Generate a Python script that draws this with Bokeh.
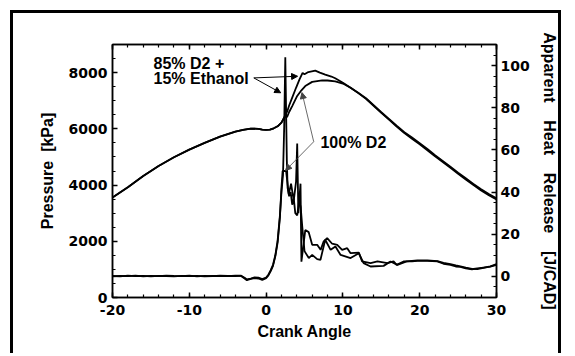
from bokeh.plotting import figure
from bokeh.models import (Range1d, LinearAxis, SingleIntervalTicker, Arrow,
                          NormalHead, Label)
from bokeh.embed import file_html
from bokeh.resources import INLINE

# ---------------- data ----------------
# Cylinder pressure [kPa] vs crank angle
p_common_x = [-20, -18, -16, -14, -12, -10, -8, -6, -4, -3, -2, -1, -0.5, 0, 0.5, 1, 1.5, 2, 2.4]
p_common_y = [3560, 3920, 4320, 4680, 4990, 5260, 5500, 5720, 5900, 5960, 6010, 6000, 5975, 5960, 5975, 6020, 6090, 6220, 6420]

p_eth_x = [2.75, 3.0, 3.4, 3.9, 4.35, 4.75, 5.0, 5.5, 6.4, 7.0, 7.7, 8.5, 9.0, 9.5, 10, 11, 12, 13, 14, 15, 16, 17, 18, 19, 20, 21, 22, 23, 24, 25, 26, 27, 28, 29, 30]
p_eth_y = [6620, 6830, 7110, 7460, 7760, 7990, 7940, 8020, 8070, 8000, 7930, 7860, 7800, 7720, 7640, 7460, 7270, 7070, 6820, 6570, 6330, 6080, 5850, 5650, 5450, 5240, 5020, 4820, 4610, 4400, 4200, 4000, 3810, 3640, 3490]

p_d2_x = [2.75, 3.0, 3.4, 4.05, 4.6, 5.1, 6.0, 7.3, 8.0, 9.0, 10, 11, 12, 13, 14, 15, 16, 17, 18, 19, 20, 21, 22, 23, 24, 25, 26, 27, 28, 29, 30]
p_d2_y = [6430, 6600, 6810, 7170, 7370, 7520, 7670, 7720, 7720, 7690, 7610, 7460, 7280, 7090, 6840, 6590, 6350, 6110, 5880, 5690, 5490, 5280, 5060, 4860, 4650, 4440, 4240, 4040, 3850, 3680, 3530]

# Apparent heat release [J/CAD] vs crank angle
h_d2_x = [-20, -19, -18, -17, -16, -15, -14, -13, -12, -11, -10, -9, -8, -7, -6, -5, -4, -3.3, -2.8, -2.5, -2.0, -1.5, -1.0, -0.5, 0, 0.3, 0.6, 0.9, 1.2, 1.5, 1.8, 2.0, 2.15, 2.6, 2.95, 3.25, 3.6, 3.9, 4.05, 4.2, 4.48, 4.6, 5.1, 5.55, 6.0, 6.65, 7.1, 7.5, 7.95, 8.6, 9.26, 9.9, 10.56, 11.0, 12.07, 12.5, 13.6, 14.5, 15.8, 16.6, 17.0, 17.9, 19.0, 19.7, 21.0, 22.3, 23.1, 24.0, 24.7, 25.3, 26.0, 26.8, 27.5, 28.3, 29.2, 30]
h_d2_y = [0.2, 0.0, 0.4, 0.1, 0.3, 0.0, 0.3, 0.2, 0.0, 0.3, 0.1, 0.3, 0.0, 0.2, 0.3, 0.1, 0.4, 0.3, -1.0, -1.8, -1.2, -0.8, -1.0, -1.7, -0.8, 0.5, 2.5, 5, 9.5, 16, 28, 42, 50, 50, 39, 44, 36, 45, 63, 30, 44, 7, 22, 21, 15, 15, 12.6, 16.6, 18.2, 15.5, 15, 12.6, 13.4, 11, 11.3, 7.1, 6.3, 7.1, 6.3, 7.1, 5.5, 7.1, 7.2, 7.4, 7.4, 7.1, 6.0, 5.5, 4.7, 4.5, 3.8, 3.4, 3.8, 4.2, 4.6, 5.5]

h_eth_x = [-20, -19, -18, -17, -16, -15, -14, -13, -12, -11, -10, -9, -8, -7, -6, -5, -4, -3.3, -2.8, -2.5, -2.0, -1.5, -1.0, -0.5, 0, 0.3, 0.6, 0.9, 1.2, 1.5, 1.8, 2.0, 2.2, 2.35, 2.5, 2.7, 2.8, 3.0, 3.2, 3.4, 3.6, 3.8, 4.05, 4.3, 4.5, 4.7, 5.0, 5.56, 6.0, 6.65, 7.08, 7.7, 8.4, 9.03, 9.7, 11.0, 12.07, 12.7, 13.6, 15.3, 16.2, 17.1, 18.3, 19.7, 21.0, 22.3, 23.1, 24.0, 24.7, 25.3, 26.0, 26.8, 27.5, 28.3, 29.2, 30]
h_eth_y = [0.0, 0.3, 0.1, 0.4, 0.0, 0.3, 0.1, 0.4, 0.2, 0.1, 0.4, 0.0, 0.3, 0.1, 0.4, 0.2, 0.2, 0.4, -0.6, -1.4, -1.0, -0.5, -0.6, -1.3, -0.5, 0.8, 3, 5.5, 10, 17, 29, 40, 48, 70, 104, 55, 42, 38, 40, 34, 37, 30, 29, 36, 33, 24, 12, 8.7, 10.2, 8.2, 7.9, 17.4, 12.6, 14.2, 10.2, 8.7, 11, 6.3, 4.7, 5.0, 7.1, 5.5, 7.1, 7.6, 7.6, 7.3, 6.4, 5.8, 5.2, 4.8, 4.2, 3.6, 3.5, 4.0, 4.8, 5.8]

x_tick_labels = {-20: "-20", -10: "-10", 0: "0", 10: "10", 20: "20", 30: "30"}

# ---------------- figure ----------------
TICK_FONT = "DejaVu Sans"
LABEL_FONT = "Liberation Sans"

# figure sits inside a 3px black frame (CSS border) starting 10px from the window edge
p = figure(width=551, height=343, output_backend="svg", toolbar_location=None,
           x_range=Range1d(-20, 30), y_range=Range1d(0, 9000),
           x_axis_location=None, y_axis_location=None,
           min_border_left=99, min_border_right=68,
           min_border_top=31, min_border_bottom=59,
           background_fill_color="white", border_fill_color="white")
p.margin = (10, 0, 0, 10)
p.styles = {"border-top": "3px solid black", "border-left": "3px solid black",
            "border-right": "3px solid black"}
p.extra_y_ranges = {"hrr": Range1d(-10, 110)}
for g in p.grid:
    g.visible = False
p.outline_line_color = "black"
p.outline_line_width = 1.5


def style_axis(ax):
    ax.major_tick_in = 5
    ax.major_tick_out = 0
    ax.minor_tick_in = 3
    ax.minor_tick_out = 0
    ax.axis_line_width = 1.5
    ax.major_tick_line_width = 1.5
    ax.minor_tick_line_width = 1.2
    ax.axis_line_color = "black"
    ax.major_tick_line_color = "black"
    ax.minor_tick_line_color = "black"
    ax.major_label_text_font = TICK_FONT
    ax.major_label_text_font_style = "bold"
    ax.major_label_text_font_size = "14px"
    ax.major_label_text_color = "black"
    ax.axis_label_text_font = LABEL_FONT
    ax.axis_label_text_font_style = "bold"
    ax.axis_label_text_font_size = "16px"
    ax.axis_label_text_color = "black"


xaxis = LinearAxis(ticker=SingleIntervalTicker(interval=10, num_minor_ticks=5),
                   axis_label="Crank Angle", major_label_overrides=x_tick_labels)
style_axis(xaxis)
xaxis.major_label_standoff = 7
xaxis.axis_label_standoff = 5
p.add_layout(xaxis, "below")

topaxis = LinearAxis(ticker=SingleIntervalTicker(interval=10, num_minor_ticks=5))
style_axis(topaxis)
topaxis.major_label_text_color = None
topaxis.major_label_standoff = 0
p.add_layout(topaxis, "above")

yleft = LinearAxis(ticker=SingleIntervalTicker(interval=2000, num_minor_ticks=4),
                   axis_label="Pressure\u00a0\u00a0[kPa]")
style_axis(yleft)
yleft.major_label_standoff = 5
yleft.axis_label_standoff = 10
p.add_layout(yleft, "left")

yright = LinearAxis(y_range_name="hrr",
                    ticker=SingleIntervalTicker(interval=20, num_minor_ticks=4),
                    axis_label="Apparent\u00a0\u00a0\u00a0\u00a0Heat\u00a0\u00a0\u00a0\u00a0Release\u00a0\u00a0\u00a0\u00a0[J/CAD]")
style_axis(yright)
yright.major_label_standoff = 4
yright.axis_label_standoff = 8
p.add_layout(yright, "right")

# ---------------- curves ----------------
eth_px = p_common_x + p_eth_x
eth_py = p_common_y + p_eth_y
d2_px = p_common_x + p_d2_x
d2_py = p_common_y + p_d2_y

p.line(eth_px, eth_py, line_color="black", line_width=1.8)
p.line(d2_px, d2_py, line_color="black", line_width=1.8)
p.line(h_d2_x, h_d2_y, y_range_name="hrr", line_color="black", line_width=1.8)
p.line(h_eth_x, h_eth_y, y_range_name="hrr", line_color="black", line_width=1.8)

# ---------------- annotations ----------------
def label(x, y, txt):
    p.add_layout(Label(x=x, y=y, text=txt, text_font=LABEL_FONT,
                       text_font_style="bold", text_font_size="16px",
                       text_color="black", text_baseline="middle",
                       text_align="left"))

label(-14.66, 8313, "85% D2 +")
label(-14.66, 7784, "15% Ethanol")
label(7.08, 5507, "100% D2")


def arrow(xs, ys, xe, ye, color, width):
    p.add_layout(Arrow(end=NormalHead(size=6, fill_color=color, line_color=color, line_width=1),
                       x_start=xs, y_start=ys, x_end=xe, y_end=ye,
                       line_color=color, line_width=width))

arrow(-1.6, 7812, 4.1, 7870, "black", 1)
arrow(-1.6, 7812, 1.9, 7282, "black", 1)
arrow(6.2, 5542, 4.67, 7290, "#444444", 0.8)
arrow(6.2, 5542, 2.53, 4518, "#444444", 0.8)

open("out.html", "w").write(file_html(p, INLINE))
